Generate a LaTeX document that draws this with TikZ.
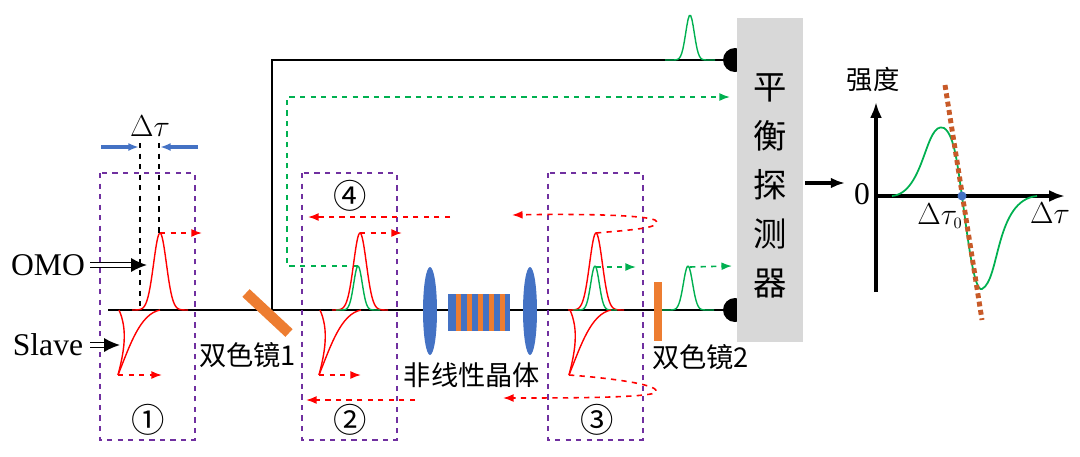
\documentclass[tikz,border=0pt]{standalone}
\usepackage{fontspec}
\setmainfont{Liberation Serif}
\newfontfamily\cjk{Noto Sans CJK SC}
\usetikzlibrary{arrows.meta}
\definecolor{pur}{RGB}{112,48,160}
\definecolor{org}{RGB}{237,125,49}
\definecolor{blu}{RGB}{68,114,196}
\definecolor{grn}{RGB}{0,176,80}
\definecolor{gry}{RGB}{216,216,216}
\definecolor{dorg}{RGB}{200,90,40}
\begin{document}
\begin{tikzpicture}[x=0.02cm,y=-0.02cm,
 box/.style={pur,dashed,line width=1pt},
 rda/.style={red,dashed,line width=0.9pt,-{Latex[length=6pt]}},
 gda/.style={grn,dashed,line width=0.9pt,-{Latex[length=6pt]}},
 rp/.style={red,line width=0.8pt},
 gp/.style={grn,line width=0.8pt},
 lbl/.style={font=\cjk\fontsize{15.5}{18}\selectfont},
 dbl/.style={double,double distance=1.8pt,line width=0.9pt,-{Latex[length=9pt,width=8pt]}},
 circ/.style={font=\cjk\fontsize{19}{21}\selectfont}]
\useasboundingbox (0,0) rectangle (1080,457);
% detector
\fill (735,60) circle (12);
\fill (735,310) circle (12);
\coordinate (d1) at (735,60); \coordinate (d2) at (735,310);
\node[fill=gry,minimum width=1.32cm,minimum height=6.5cm,inner sep=0] (det) at (770,180) {};
\node[align=center,font=\cjk\fontsize{19}{28}\selectfont] (dett) at (770,186) {平\\衡\\探\\测\\器};
% beams
\coordinate (a0) at (108,310); \coordinate (m1) at (272,310); \coordinate (t1) at (272,60);
\draw[line width=0.8pt] (a0) -- (d2);
\draw[line width=0.8pt] (m1) -- (t1) -- (d1);
\draw[gp] plot[domain=665:715,samples=40] (\x,{60-45*exp(-((\x-690)/6)^2)});
% green dashed to detector
\coordinate (g0) at (358,266); \coordinate (g1) at (287,266); \coordinate (g2) at (287,97); \coordinate (g3) at (730,97);
\draw[gda] (g0) -- (g1) -- (g2) -- (g3);
% boxes
\draw[box] (100,173) rectangle (195,440);
\draw[box] (302,173) rectangle (397,440);
\draw[box] (548,173) rectangle (643,440);
\node[circ] (c1) at (148,420) {①};
\node[circ] (c2) at (350,420) {②};
\node[circ] (c3) at (597,420) {③};
\node[circ] (c4) at (350,196) {④};
% mirrors
\draw[org,line width=6pt] (246,293) -- (289,333);
\node[lbl,anchor=west] (mt1) at (193,355) {双色镜1};
\fill[org] (654,282) rectangle (662,341);
\node[lbl,anchor=west] (mt2) at (646,357) {双色镜2};
% lenses and crystal
\fill[blu] (430,311) ellipse (7 and 44);
\fill[blu] (530,311) ellipse (7 and 44);
\fill[blu] (448,294) rectangle (510,331);
\foreach \s in {456,467,478,489,500} \fill[org] (\s,294) rectangle (\s+5,331);
\node[lbl] (nl) at (472,375) {非线性晶体};
% pulses
\foreach \c in {160,360,596}{
 \draw[rp] plot[domain=\c-28:\c+28,samples=60] (\x,{310-77*exp(-((\x-\c)/9)^2)});
}
\foreach \c in {358,595}
 \draw[gp] plot[domain=\c-22:\c+22,samples=50] (\x,{310-44*exp(-((\x-\c)/6)^2)});
\draw[gp] plot[domain=662:714,samples=50] (\x,{310-44*exp(-((\x-688)/6.5)^2)});
\foreach \l/\r in {119/160,320/361,570/611}{
 \draw[rp] (\l,310) .. controls (\l+9,330) and (\l+5,352) .. (\l-1,375);
 \draw[rp] (\r,310) .. controls (\r-20,314) and (\r-30,345) .. (\l-1,375);
}
% red arrows
\draw[rda] (160,233) -- (202,233);
\draw[rda] (118,375) -- (162,375);
\draw[rda] (360,233) -- (402,233);
\draw[rda] (319,375) -- (361,375);
\draw[rda] (450,217) -- (308,217);
\draw[rda] (415,400) -- (306,400);
\draw[rda] (596,233) .. controls (630,230) and (665,228) .. (655,220) .. controls (640,214) and (560,214) .. (512,215);
\draw[rda] (569,375) .. controls (610,378) and (665,385) .. (655,393) .. controls (640,398) and (560,398) .. (503,398);
\draw[gda] (596,267) -- (636,267);
\draw[gda] (690,267) -- (732,266);
% delta tau
\draw[dashed,line width=0.7pt] (140,143) -- (140,310);
\draw[dashed,line width=0.7pt] (159,143) -- (159,233);
\draw[blu,line width=1.8pt,-{Latex[length=6pt]}] (101,147) -- (139,147);
\draw[blu,line width=1.8pt,-{Latex[length=6pt]}] (198,147) -- (160,147);
\node[font=\fontsize{18}{20}\selectfont] (dt) at (150,126) {$\Delta\tau$};
\node[font=\fontsize{18}{20}\selectfont] (omo) at (48,265) {OMO};
\node[font=\fontsize{18}{20}\selectfont] (sl) at (48,345) {Slave};
\coordinate (oa) at (90,265); \coordinate (ob) at (147,265);
\coordinate (sa) at (90,345); \coordinate (sb) at (120,345);
\draw[dbl] (oa) -- (ob);
\draw[dbl] (sa) -- (sb);
% output arrow
\coordinate (o1) at (805,183); \coordinate (o2) at (845,183);
\draw[line width=1.8pt,-{Latex[length=8pt]}] (o1) -- (o2);
% graph
\coordinate (O) at (876,196);
\draw[line width=1.8pt,-{Latex[length=9pt]}] (876,292) -- (876,102);
\draw[line width=1.8pt,-{Latex[length=9pt]}] (O) -- (1065,196);
\draw[gp,line width=1pt] (892,196) .. controls (925,193) and (925,120) .. (944,128)
 .. controls (955,135) and (958,170) .. (962,196)
 .. controls (968,240) and (974,292) .. (982,289)
 .. controls (1000,280) and (995,200) .. (1037,196);
\draw[dorg,line width=2.8pt,dotted] (945,85) -- (982,320);
\fill[blu] (962,196) circle (4.5);
\node[font=\cjk\fontsize{15}{17}\selectfont] (qd) at (873,80) {强度};
\node[font=\fontsize{18}{20}\selectfont] (z) at (862,194) {0};
\node[font=\fontsize{18}{20}\selectfont] (dx) at (1050,213) {$\Delta\tau$};
\node[font=\fontsize{18}{20}\selectfont] (d0) at (940,216) {$\Delta\tau_{\scriptscriptstyle 0}$};
\end{tikzpicture}
\end{document}
